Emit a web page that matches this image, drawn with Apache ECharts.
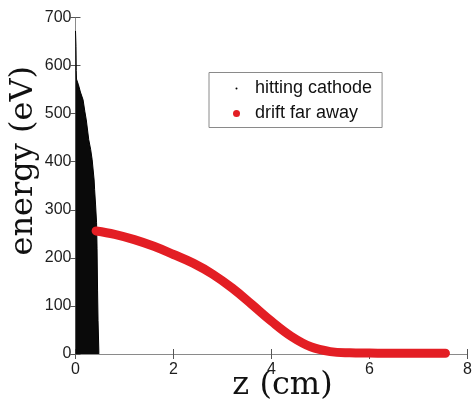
<!DOCTYPE html>
<html>
<head>
<meta charset="utf-8">
<script src="https://cdn.jsdelivr.net/npm/echarts@6/dist/echarts.min.js"></script>
<style>
html,body{margin:0;padding:0;background:#fff;}
#chart{width:473px;height:407px;}
</style>
</head>
<body>
<div id="chart"></div>
<script>
// Upper envelope of the "hitting cathode" point cloud (z in cm, energy in eV)
const cathodeZ =      [0,   0.01, 0.015, 0.02, 0.06, 0.10, 0.154, 0.19, 0.22, 0.27, 0.31, 0.34, 0.38, 0.39, 0.41, 0.43, 0.44, 0.45, 0.46, 0.476, 0.476];
const cathodeEnergy = [672, 640,  590,   572,  560,  545,  529,   505,  487,  446,  425,  404,  362,  342,  310,  273,  220,  133,  70,   8,     0];

// "drift far away" trajectory
const driftZ =      [0.42, 0.8, 1.2, 1.6, 2.0, 2.4, 2.8, 3.2, 3.6, 4.0, 4.4, 4.8, 5.2, 5.6, 6.0, 6.5, 7.0, 7.55];
const driftEnergy = [256,  249, 238, 224, 207, 189, 166, 137, 103, 68,  37,  15,  5,   2.5, 2,   1.5, 1.5, 1.5];

const xTicks = [0, 2, 4, 6, 8];
const yTicks = [0, 100, 200, 300, 400, 500, 600, 700];

const zip = (a, b) => a.map((v, i) => [v, b[i]]);

const chart = echarts.init(document.getElementById('chart'), null, {renderer: 'canvas'});
const axisColor = '#8a8a8a';
const labelColor = '#1e1e1e';
const tickFont = 'Liberation Sans';
const xBase = {
  type: 'value', min: xTicks[0], max: xTicks[xTicks.length - 1], interval: xTicks[1] - xTicks[0],
  axisLine: {show: true, lineStyle: {color: axisColor, width: 1}},
  axisTick: {show: true, inside: true, length: 5, lineStyle: {color: '#555'}},
  splitLine: {show: false}
};
const yBase = {
  type: 'value', min: yTicks[0], max: yTicks[yTicks.length - 1], interval: yTicks[1] - yTicks[0],
  axisLine: {show: true, lineStyle: {color: axisColor, width: 1}},
  axisTick: {show: true, inside: true, length: 5, lineStyle: {color: '#555'}},
  splitLine: {show: false}
};

chart.setOption({
  animation: false,
  backgroundColor: '#fff',
  grid: {left: 75.5, right: 5.5, top: 17.5, bottom: 53, containLabel: false, outerBoundsMode: 'none'},
  xAxis: [
    Object.assign({}, xBase, {
      position: 'bottom',
      axisLabel: {show: true, fontSize: 16, color: labelColor, fontFamily: tickFont, margin: 8},
      name: 'z (cm)', nameLocation: 'middle', nameGap: 16, nameMoveOverlap: false,
      nameTextStyle: {fontFamily: 'DejaVu Serif', fontSize: 32, color: '#111', padding: [0, 0, 0, 22]}
    }),
    Object.assign({}, xBase, {position: 'top', axisLabel: {show: false}})
  ],
  yAxis: [
    Object.assign({}, yBase, {
      position: 'left',
      axisLabel: {show: true, fontSize: 16, color: labelColor, fontFamily: tickFont, margin: 4},
      name: 'energy (eV)', nameLocation: 'middle', nameGap: 36, nameRotate: 90, nameMoveOverlap: false,
      nameTextStyle: {fontFamily: 'DejaVu Serif', fontSize: 32, color: '#111', padding: [0, 0, 0, 50]}
    }),
    Object.assign({}, yBase, {position: 'right', axisLabel: {show: false}})
  ],
  legend: {
    orient: 'vertical',
    left: 209, top: 72.5,
    padding: [7, 10, 5, 21.5],
    itemWidth: 7, itemHeight: 7, itemGap: 7,
    borderColor: '#8a8a8a', borderWidth: 1, backgroundColor: '#fff',
    textStyle: {fontFamily: tickFont, fontSize: 18, color: '#111', padding: [0, 0, 0, 10]},
    data: [
      {name: 'hitting cathode', icon: 'circle', itemStyle: {color: '#000', borderColor: '#fff', borderWidth: 5}},
      {name: 'drift far away', icon: 'circle', itemStyle: {color: '#e31e24'}}
    ]
  },
  series: [
    {
      name: 'hitting cathode', type: 'line', xAxisIndex: 0, yAxisIndex: 0,
      data: zip(cathodeZ, cathodeEnergy),
      showSymbol: false, symbol: 'none',
      lineStyle: {color: '#000', width: 1},
      areaStyle: {color: '#0a0a0a', opacity: 1},
      itemStyle: {color: '#000'},
      z: 2
    },
    {
      name: 'drift far away', type: 'line', xAxisIndex: 0, yAxisIndex: 0,
      data: zip(driftZ, driftEnergy),
      smooth: 0.4, showSymbol: false, symbol: 'none',
      lineStyle: {color: '#e31e24', width: 9, cap: 'round', join: 'round'},
      itemStyle: {color: '#e31e24'},
      z: 3
    }
  ]
});
</script>
</body>
</html>
